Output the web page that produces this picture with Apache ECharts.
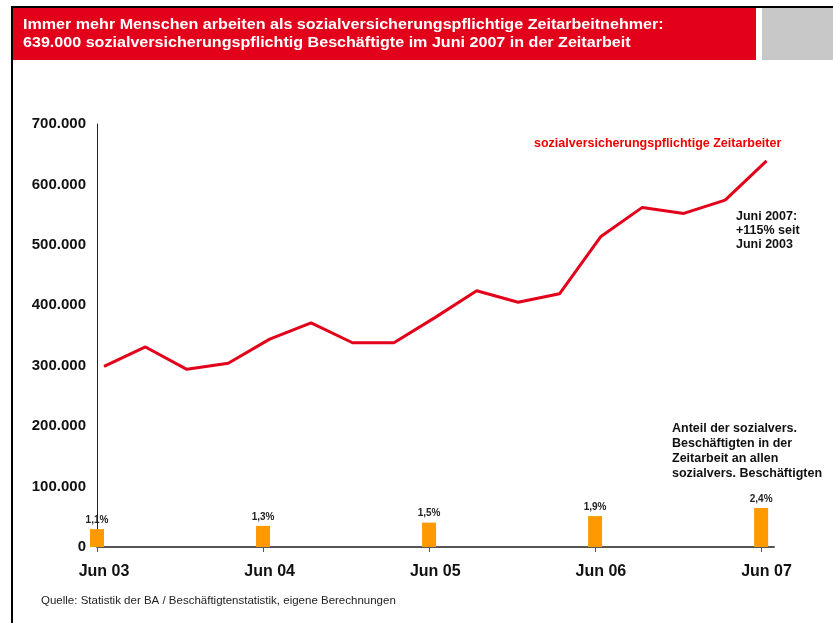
<!DOCTYPE html>
<html>
<head>
<meta charset="utf-8">
<script src="https://cdn.jsdelivr.net/npm/echarts@6/dist/echarts.min.js"></script>
<style>
  html, body { margin: 0; padding: 0; background: #fff; }
  #chart { width: 833px; height: 623px; }
</style>
</head>
<body>
<div id="chart"></div>
<script>
// Zeitarbeiter, quartalsweise Jun 03 .. Jun 07
var quarterIdx = [0, 1, 2, 3, 4, 5, 6, 7, 8, 9, 10, 11, 12, 13, 14, 15, 16];
var zeitarbeiter = [299000, 331000, 294000, 304000, 344000, 371000, 338000, 338000,
                    380000, 424000, 405000, 419000, 514000, 562000, 552000, 574000, 639000];
// Anteil an allen sozialvers. Beschäftigten (%), jeweils Juni
var anteilIdx = [0, 4, 8, 12, 16];
var anteil = [1.1, 1.3, 1.5, 1.9, 2.4];
var xLabels = ['Jun 03', 'Jun 04', 'Jun 05', 'Jun 06', 'Jun 07'];
var yTicks = [0, 100000, 200000, 300000, 400000, 500000, 600000, 700000];

var FONT = '"Liberation Sans", Arial, sans-serif';
var RED = '#E2001A';

function fmtTsd(v) {
    if (v === 0) return '0';
    return String(v).replace(/\B(?=(\d{3})+(?!\d))/g, '.');
}

var lineData = [];
for (var i = 0; i < quarterIdx.length; i++) {
    lineData.push([quarterIdx[i], zeitarbeiter[i]]);
}
var barData = [];
for (var k = 0; k < anteilIdx.length; k++) {
    barData.push([anteilIdx[k], anteil[k]]);
}

var myChart = echarts.init(document.getElementById('chart'));

var option = {
    backgroundColor: '#fff',
    animation: false,
    textStyle: { fontFamily: FONT },
    grid: { left: 97, top: 124, right: 59, bottom: 76 },
    xAxis: [
        {
            // Achse mit Strich und Ticks (Balken)
            type: 'value', position: 'bottom',
            min: 0, max: 16.31,
            axisLine: { show: true, lineStyle: { color: '#555', width: 2 } },
            axisTick: { show: true, length: 5, customValues: anteilIdx, lineStyle: { color: '#555', width: 1 } },
            axisLabel: { show: false },
            splitLine: { show: false }
        },
        {
            // Achse für die Linie und die Beschriftungen
            type: 'value', position: 'bottom',
            min: -0.17, max: 16.18,
            axisLine: { show: false },
            axisTick: { show: false },
            splitLine: { show: false },
            axisLabel: {
                show: true,
                customValues: anteilIdx,
                margin: 17,
                fontSize: 16, fontWeight: 'bold', color: '#111', fontFamily: FONT,
                formatter: function (v) {
                    var idx = anteilIdx.indexOf(Math.round(v));
                    return idx >= 0 ? xLabels[idx] : '';
                }
            }
        }
    ],
    yAxis: [
        {
            type: 'value', min: yTicks[0], max: yTicks[yTicks.length - 1], interval: 100000,
            axisLine: { show: true, lineStyle: { color: '#222', width: 1 } },
            axisTick: { show: false },
            splitLine: { show: false },
            axisLabel: {
                margin: 11, fontSize: 15, fontWeight: 'bold', color: '#111', fontFamily: FONT,
                formatter: fmtTsd
            }
        },
        {
            type: 'value', min: 0, max: 26, show: false,
            splitLine: { show: false }
        }
    ],
    series: [
        {
            name: 'Anteil',
            type: 'bar',
            xAxisIndex: 0, yAxisIndex: 1,
            barWidth: 14,
            clip: false,
            itemStyle: { color: '#FF9900' },
            label: {
                show: true, position: 'top', distance: 4,
                fontSize: 10, fontWeight: 'bold', color: '#222', fontFamily: FONT,
                formatter: function (p) { return String(p.value[1]).replace('.', ',') + '%'; }
            },
            data: barData,
            z: 2
        },
        {
            name: 'sozialversicherungspflichtige Zeitarbeiter',
            type: 'line',
            xAxisIndex: 1, yAxisIndex: 0,
            symbol: 'none',
            lineStyle: { color: RED, width: 3 },
            data: lineData,
            z: 3
        }
    ],
    graphic: [
        // Rahmen
        { type: 'rect', shape: { x: 11, y: 6, width: 822, height: 2 }, style: { fill: '#000' } },
        { type: 'rect', shape: { x: 11, y: 6, width: 2, height: 617 }, style: { fill: '#000' } },
        // Kopfbalken
        { type: 'rect', shape: { x: 13, y: 8, width: 743, height: 52 }, style: { fill: RED } },
        { type: 'rect', shape: { x: 762, y: 8, width: 71, height: 52 }, style: { fill: '#C8C8C8' } },
        {
            type: 'text', x: 23, y: 16, scaleX: 1.15,
            style: {
                text: 'Immer mehr Menschen arbeiten als sozialversicherungspflichtige Zeitarbeitnehmer:\n639.000 sozialversicherungspflichtig Beschäftigte im Juni 2007 in der Zeitarbeit',
                fill: '#fff', font: 'bold 14px ' + FONT, lineHeight: 18
            }
        },
        {
            type: 'text', left: 534, top: 137,
            style: { text: 'sozialversicherungspflichtige Zeitarbeiter', fill: '#F00000', font: 'bold 12.5px ' + FONT }
        },
        {
            type: 'text', left: 736, top: 210,
            style: { text: 'Juni 2007:\n+115% seit\nJuni 2003', fill: '#111', font: 'bold 12.5px ' + FONT, lineHeight: 14 }
        },
        {
            type: 'text', left: 672, top: 421,
            style: {
                text: 'Anteil der sozialvers.\nBeschäftigten in der\nZeitarbeit an allen\nsozialvers. Beschäftigten',
                fill: '#111', font: 'bold 12.5px ' + FONT, lineHeight: 15
            }
        },
        {
            type: 'text', left: 41, top: 595,
            style: { text: 'Quelle: Statistik der BA / Beschäftigtenstatistik, eigene Berechnungen', fill: '#222', font: '11.5px ' + FONT }
        }
    ]
};

myChart.setOption(option);
</script>
</body>
</html>
